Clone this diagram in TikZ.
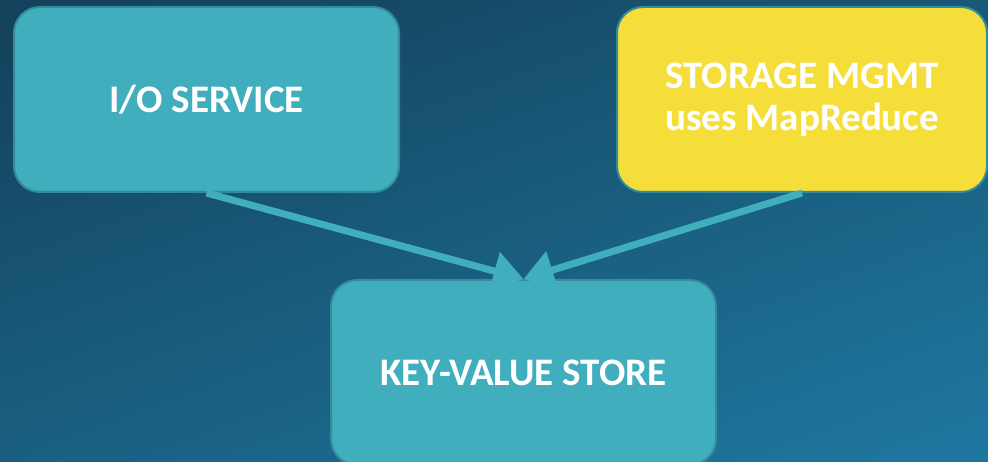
\documentclass[tikz,border=0pt]{standalone}
\usepackage{fontspec}
\setmainfont{Carlito}
\usetikzlibrary{arrows.meta, positioning}
\definecolor{bgtop}{RGB}{20,66,92}
\definecolor{bgbottom}{RGB}{30,118,158}
\definecolor{tealfill}{RGB}{65,174,189}
\definecolor{tealedge}{RGB}{52,140,154}
\definecolor{yellowfill}{RGB}{245,222,58}
\tikzstyle{block} = [
  rectangle, rounded corners = 26,
  minimum width = 385, minimum height = 185,
  draw = tealedge, line width = 2, fill = tealfill,
  text = white, font = \bfseries\fontsize{39}{42}\selectfont,
  align = center
]
\tikzstyle{link} = [
  draw = tealfill, line width = 7,
  -{Triangle[width = 38, length = 30]}
]

\begin{document}
\begin{tikzpicture}[x = 1pt, y = -1pt]
      \useasboundingbox (0, 0) rectangle (988, 462);
      \clip (0, 0) rectangle (988, 462);
      \shade [top color = bgtop, bottom color = bgbottom, shading angle = 20]
        (-50, -50) rectangle (1040, 520);
      % top row
      \node [block] (io-service) at (206.5, 99.5) {I/O SERVICE};
      \node [block, fill = yellowfill, minimum width = 370] (storage-mgmt)
        at (802, 99.5) {STORAGE MGMT\\uses MapReduce};
      % bottom
      \node [block] (kv-store) at (523.5, 372.5) {KEY-VALUE STORE};

      \draw [link] (io-service.south) -- (kv-store.north);
      \draw [link] (storage-mgmt.south) -- (kv-store.north);
    \end{tikzpicture}
\end{document}
